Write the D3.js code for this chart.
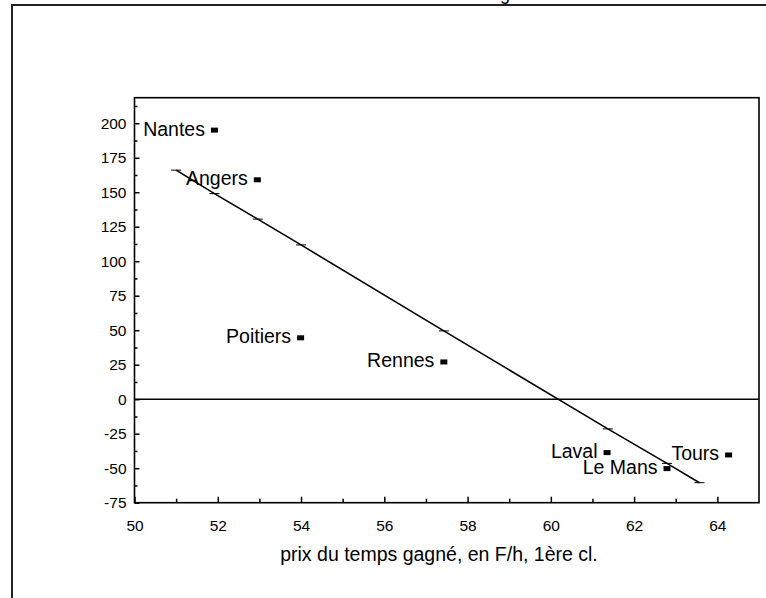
<!DOCTYPE html>
<html><head><meta charset="utf-8">
<script src="https://cdn.jsdelivr.net/npm/d3@7"></script>
<style>body{margin:0;background:#fff}svg{display:block}text{font-family:"Liberation Sans",Arial,sans-serif;fill:#000}</style>
</head><body>
<svg id="c" width="766" height="598"></svg>
<script>
// ---- data ----
const cities = ["Nantes","Angers","Poitiers","Rennes","Laval","Le Mans","Tours"];
const prixTemps = [51.92, 52.95, 53.99, 57.43, 61.35, 62.79, 64.27];
const valeurs = [195, 159, 44.5, 27, -38.7, -50.3, -40.4];
const fitX = [51.0, 51.92, 52.96, 54.0, 57.43, 61.37, 62.79, 63.57];
const fitY = [166, 149, 130.5, 111.8, 49.5, -21.5, -46.5, -60.5];
const xMajor = [50,52,54,56,58,60,62,64];
const xMinor = [51,53,55,57,59,61,63];
const yMajor = [-75,-50,-25,0,25,50,75,100,125,150,175,200];
const yMinor = [-62.5,-37.5,-12.5,12.5,37.5,62.5,87.5,112.5,137.5,162.5,187.5,212.5];
const xTitle = "prix du temps gagné, en F/h, 1ère cl.";
const topGlyph = "g";

const svg = d3.select("#c");
const L = 134.5, R = 759, T = 97.7, B = 502.7;
const x = d3.scaleLinear().domain([50,65]).range([L,R]);
const y = d3.scaleLinear().domain([-75,218.5]).range([B,T]);
const fmt = d => String(d);

// outer frame
svg.append("rect").attr("x",12).attr("y",5).attr("width",800).attr("height",700)
  .attr("fill","none").attr("stroke","#222").attr("stroke-width",2);
svg.append("text").attr("x",505).attr("y",0).attr("text-anchor","middle")
  .style("font-size","18px").text(topGlyph);

// axes (inward ticks)
const gx = svg.append("g").attr("transform",`translate(0,${B})`)
  .call(d3.axisBottom(x).tickValues(xMajor).tickSize(-6).tickFormat(fmt));
gx.select(".domain").remove();
gx.selectAll("text").style("font-size","15.5px").attr("dy","0").attr("y",28);
svg.append("g").attr("transform",`translate(0,${B})`)
  .call(d3.axisBottom(x).tickValues(xMinor).tickSize(-4).tickFormat(""))
  .select(".domain").remove();

const gy = svg.append("g").attr("transform",`translate(${L},0)`)
  .call(d3.axisLeft(y).tickValues(yMajor).tickSize(-5).tickPadding(8).tickFormat(fmt));
gy.select(".domain").remove();
gy.selectAll("text").style("font-size","15.5px");
svg.append("g").attr("transform",`translate(${L},0)`)
  .call(d3.axisLeft(y).tickValues(yMinor).tickSize(-3).tickFormat(""))
  .select(".domain").remove();
svg.selectAll(".tick line").attr("stroke","#000").attr("stroke-width",1.5);

// plot frame
svg.append("rect").attr("x",L).attr("y",T).attr("width",R-L).attr("height",B-T)
  .attr("fill","none").attr("stroke","#000").attr("stroke-width",1.6);

// zero line
svg.append("line").attr("x1",L).attr("x2",R).attr("y1",y(0)).attr("y2",y(0))
  .attr("stroke","#000").attr("stroke-width",1.6);

// regression line
const fit = fitX.map((v,i)=>[v,fitY[i]]);
svg.append("path").datum(fit)
  .attr("d",d3.line().x(d=>x(d[0])).y(d=>y(d[1])))
  .attr("fill","none").attr("stroke","#000").attr("stroke-width",1.6);
svg.selectAll(".fitmark").data(fit).enter().append("line")
  .attr("x1",d=>x(d[0])-5).attr("x2",d=>x(d[0])+5)
  .attr("y1",d=>y(d[1])).attr("y2",d=>y(d[1]))
  .attr("stroke","#000").attr("stroke-width",1);

// points
const pts = cities.map((c,i)=>({c, x:prixTemps[i], y:valeurs[i]}));
svg.selectAll(".pt").data(pts).enter().append("rect")
  .attr("x",d=>x(d.x)-3.5).attr("y",d=>y(d.y)-2.5).attr("width",7).attr("height",5).attr("fill","#000");
svg.selectAll(".lab").data(pts).enter().append("text")
  .attr("x",d=>x(d.x)-9.5).attr("y",d=>y(d.y)+5.5).attr("text-anchor","end")
  .style("font-size","19.5px").text(d=>d.c);

// x title
svg.append("text").attr("x",439).attr("y",561).attr("text-anchor","middle")
  .style("font-size","19.5px").text(xTitle);
</script>
</body></html>
